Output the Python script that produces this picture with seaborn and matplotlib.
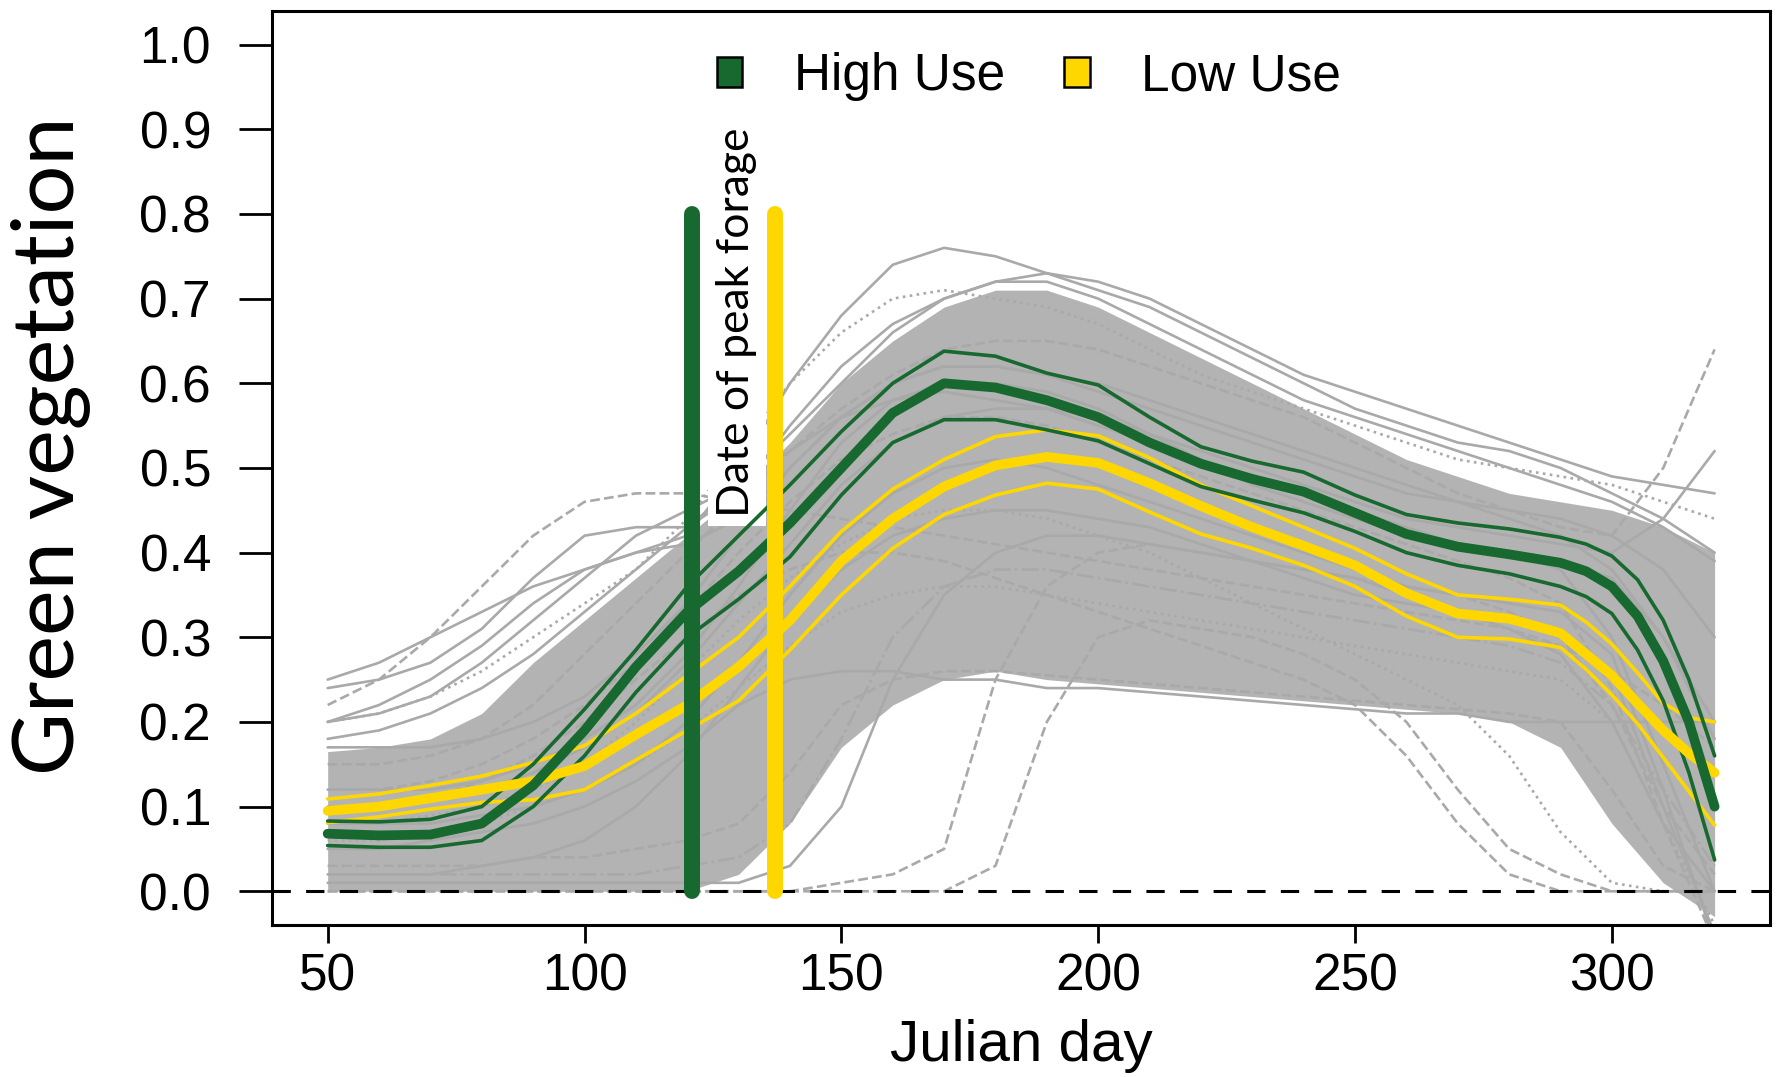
"""
Green vegetation curves by Julian day: high-use vs low-use sites,
with all individual site curves in grey behind.
"""

import matplotlib
matplotlib.use("Agg")

import matplotlib.pyplot as plt
from matplotlib.patches import Patch
import seaborn as sns

# ---------------------------------------------------------------- data
DAYS = [50, 60, 70, 80, 90, 100, 110, 120, 130, 140, 150, 160, 170, 180,
        190, 200, 210, 220, 230, 240, 250, 260, 270, 280, 290, 295, 300,
        305, 310, 315, 320]

HIGH_MEAN = [0.068, 0.066, 0.067, 0.080, 0.125, 0.190, 0.265, 0.330, 0.378,
             0.435, 0.500, 0.565, 0.600, 0.595, 0.580, 0.560, 0.530, 0.505,
             0.487, 0.472, 0.447, 0.422, 0.407, 0.398, 0.388, 0.378, 0.360,
             0.325, 0.272, 0.200, 0.100]
HIGH_UPPER = [0.083, 0.082, 0.085, 0.100, 0.150, 0.215, 0.285, 0.360, 0.420,
              0.480, 0.543, 0.600, 0.638, 0.632, 0.612, 0.598, 0.560, 0.525,
              0.508, 0.495, 0.468, 0.445, 0.435, 0.428, 0.418, 0.410, 0.396,
              0.368, 0.320, 0.250, 0.160]
HIGH_LOWER = [0.054, 0.052, 0.052, 0.060, 0.100, 0.160, 0.235, 0.300, 0.345,
              0.395, 0.468, 0.530, 0.557, 0.557, 0.545, 0.532, 0.505, 0.478,
              0.462, 0.447, 0.425, 0.400, 0.385, 0.375, 0.360, 0.348, 0.328,
              0.285, 0.225, 0.140, 0.037]

LOW_MEAN = [0.095, 0.100, 0.110, 0.120, 0.130, 0.148, 0.185, 0.220, 0.265,
            0.320, 0.390, 0.440, 0.478, 0.503, 0.513, 0.506, 0.482, 0.455,
            0.430, 0.408, 0.385, 0.352, 0.328, 0.322, 0.305, 0.280, 0.255,
            0.222, 0.190, 0.163, 0.140]
LOW_UPPER = [0.109, 0.115, 0.125, 0.136, 0.152, 0.172, 0.210, 0.255, 0.300,
             0.360, 0.425, 0.475, 0.510, 0.537, 0.545, 0.538, 0.512, 0.480,
             0.455, 0.430, 0.405, 0.375, 0.350, 0.345, 0.338, 0.318, 0.292,
             0.258, 0.222, 0.205, 0.200]
LOW_LOWER = [0.081, 0.088, 0.097, 0.105, 0.108, 0.120, 0.155, 0.190, 0.225,
             0.285, 0.350, 0.405, 0.445, 0.468, 0.482, 0.475, 0.448, 0.422,
             0.405, 0.385, 0.360, 0.325, 0.300, 0.298, 0.288, 0.262, 0.232,
             0.198, 0.158, 0.118, 0.078]

PEAK_DAY_HIGH = 121
PEAK_DAY_LOW = 137
PEAK_LINE_TOP = 0.8

# individual site curves (grey), every 10 days
GRAY_DAYS = [50, 60, 70, 80, 90, 100, 110, 120, 130, 140, 150, 160, 170, 180,
             190, 200, 210, 220, 230, 240, 250, 260, 270, 280, 290, 300, 310,
             320]

# dense core of the grey bundle
GRAY_CORE_LO = [0.00, 0.00, 0.00, 0.00, 0.00, 0.00, 0.00, 0.00, 0.02, 0.08,
                0.17, 0.22, 0.25, 0.26, 0.25, 0.245, 0.24, 0.235, 0.23, 0.225,
                0.22, 0.215, 0.21, 0.20, 0.17, 0.08, 0.01, -0.03]
GRAY_CORE_HI = [0.165, 0.17, 0.18, 0.21, 0.27, 0.32, 0.37, 0.42, 0.47, 0.53,
                0.60, 0.65, 0.69, 0.71, 0.71, 0.69, 0.66, 0.63, 0.60, 0.57,
                0.54, 0.51, 0.49, 0.47, 0.46, 0.45, 0.43, 0.40]

GRAY_01 = [0.25, 0.27, 0.30, 0.33, 0.36, 0.38, 0.40, 0.42, 0.50, 0.60, 0.68,
           0.74, 0.76, 0.75, 0.73, 0.71, 0.69, 0.66, 0.63, 0.60, 0.57, 0.55,
           0.53, 0.52, 0.50, 0.47, 0.44, 0.40]
GRAY_02 = [0.22, 0.25, 0.30, 0.36, 0.42, 0.46, 0.47, 0.47, 0.46, 0.45, 0.44,
           0.43, 0.42, 0.41, 0.40, 0.39, 0.38, 0.37, 0.36, 0.35, 0.34, 0.33,
           0.32, 0.31, 0.29, 0.26, 0.22, 0.17]
GRAY_03 = [0.24, 0.25, 0.27, 0.31, 0.37, 0.42, 0.43, 0.43, 0.47, 0.55, 0.62,
           0.67, 0.70, 0.72, 0.72, 0.70, 0.67, 0.64, 0.61, 0.58, 0.56, 0.54,
           0.52, 0.50, 0.48, 0.46, 0.43, 0.39]
GRAY_04 = [0.20, 0.21, 0.23, 0.26, 0.30, 0.34, 0.38, 0.44, 0.52, 0.60, 0.66,
           0.70, 0.71, 0.70, 0.69, 0.67, 0.64, 0.61, 0.59, 0.57, 0.55, 0.53,
           0.51, 0.50, 0.49, 0.48, 0.46, 0.44]
GRAY_05 = [0.01, 0.01, 0.01, 0.01, 0.01, 0.01, 0.01, 0.01, 0.01, 0.03, 0.10,
           0.25, 0.35, 0.40, 0.42, 0.42, 0.41, 0.40, 0.39, 0.38, 0.37, 0.35,
           0.33, 0.31, 0.28, 0.20, 0.08, 0.00]
GRAY_06 = [0.00, 0.00, 0.00, 0.00, 0.00, 0.00, 0.00, 0.00, 0.00, 0.00, 0.01,
           0.02, 0.05, 0.25, 0.36, 0.40, 0.41, 0.40, 0.39, 0.38, 0.37, 0.36,
           0.35, 0.33, 0.30, 0.22, 0.10, 0.02]
GRAY_07 = [0.02, 0.02, 0.02, 0.02, 0.02, 0.02, 0.02, 0.03, 0.04, 0.08, 0.18,
           0.30, 0.36, 0.38, 0.38, 0.37, 0.36, 0.35, 0.34, 0.33, 0.32, 0.31,
           0.30, 0.29, 0.27, 0.22, 0.12, 0.03]
GRAY_08 = [0.03, 0.03, 0.03, 0.03, 0.04, 0.04, 0.05, 0.06, 0.08, 0.14, 0.22,
           0.25, 0.26, 0.26, 0.255, 0.25, 0.245, 0.24, 0.235, 0.23, 0.225,
           0.22, 0.215, 0.21, 0.20, 0.12, 0.03, 0.00]
GRAY_09 = [0.05, 0.05, 0.06, 0.07, 0.08, 0.10, 0.13, 0.17, 0.22, 0.25, 0.26,
           0.26, 0.25, 0.25, 0.24, 0.24, 0.235, 0.23, 0.225, 0.22, 0.215,
           0.21, 0.21, 0.20, 0.20, 0.20, 0.20, 0.20]
GRAY_10 = [0.10, 0.10, 0.11, 0.13, 0.16, 0.20, 0.25, 0.30, 0.35, 0.38, 0.40,
           0.40, 0.39, 0.37, 0.35, 0.33, 0.31, 0.29, 0.27, 0.25, 0.22, 0.16,
           0.08, 0.02, 0.00, 0.00, 0.00, 0.00]
GRAY_11 = [0.08, 0.08, 0.09, 0.10, 0.12, 0.15, 0.20, 0.26, 0.32, 0.37, 0.41,
           0.44, 0.45, 0.45, 0.44, 0.42, 0.40, 0.37, 0.34, 0.31, 0.28, 0.25,
           0.22, 0.16, 0.07, 0.01, 0.00, 0.00]
GRAY_12 = [0.17, 0.17, 0.17, 0.18, 0.20, 0.23, 0.28, 0.34, 0.42, 0.50, 0.56,
           0.60, 0.62, 0.62, 0.61, 0.59, 0.57, 0.55, 0.53, 0.51, 0.49, 0.47,
           0.46, 0.45, 0.44, 0.42, 0.38, 0.30]
GRAY_13 = [0.12, 0.12, 0.12, 0.13, 0.15, 0.18, 0.22, 0.28, 0.36, 0.45, 0.53,
           0.58, 0.60, 0.60, 0.59, 0.57, 0.54, 0.51, 0.48, 0.46, 0.44, 0.42,
           0.41, 0.40, 0.39, 0.37, 0.30, 0.18]
GRAY_14 = [0.08, 0.08, 0.08, 0.09, 0.10, 0.12, 0.15, 0.20, 0.27, 0.35, 0.42,
           0.47, 0.50, 0.51, 0.50, 0.48, 0.46, 0.44, 0.42, 0.40, 0.38, 0.36,
           0.35, 0.34, 0.33, 0.28, 0.12, -0.06]
GRAY_15 = [0.02, 0.02, 0.02, 0.03, 0.04, 0.06, 0.10, 0.16, 0.24, 0.32, 0.38,
           0.42, 0.44, 0.45, 0.45, 0.44, 0.43, 0.41, 0.39, 0.37, 0.35, 0.34,
           0.33, 0.32, 0.31, 0.26, 0.10, -0.05]
GRAY_16 = [0.15, 0.15, 0.16, 0.18, 0.22, 0.28, 0.34, 0.40, 0.46, 0.52, 0.57,
           0.61, 0.64, 0.65, 0.65, 0.64, 0.62, 0.60, 0.58, 0.56, 0.53, 0.50,
           0.47, 0.45, 0.43, 0.42, 0.50, 0.64]
GRAY_17 = [0.10, 0.10, 0.11, 0.12, 0.14, 0.17, 0.21, 0.27, 0.34, 0.41, 0.48,
           0.53, 0.56, 0.57, 0.57, 0.56, 0.54, 0.52, 0.50, 0.48, 0.46, 0.44,
           0.43, 0.42, 0.41, 0.40, 0.44, 0.52]
GRAY_18 = [0.20, 0.22, 0.25, 0.29, 0.34, 0.38, 0.40, 0.41, 0.44, 0.50, 0.56,
           0.60, 0.62, 0.62, 0.61, 0.60, 0.58, 0.56, 0.54, 0.52, 0.50, 0.48,
           0.46, 0.44, 0.42, 0.38, 0.30, 0.20]
GRAY_19 = [0.06, 0.06, 0.07, 0.08, 0.10, 0.12, 0.15, 0.19, 0.24, 0.29, 0.33,
           0.35, 0.36, 0.36, 0.35, 0.34, 0.33, 0.32, 0.31, 0.30, 0.29, 0.28,
           0.27, 0.26, 0.25, 0.20, 0.08, -0.04]
GRAY_20 = [0.00, 0.00, 0.00, 0.00, 0.00, 0.00, 0.00, 0.00, 0.00, 0.00, 0.00,
           0.00, 0.00, 0.03, 0.20, 0.30, 0.32, 0.31, 0.30, 0.28, 0.25, 0.20,
           0.12, 0.05, 0.02, 0.00, 0.00, 0.00]
GRAY_21 = [0.18, 0.19, 0.21, 0.24, 0.28, 0.33, 0.38, 0.43, 0.48, 0.54, 0.60,
           0.66, 0.70, 0.72, 0.73, 0.72, 0.70, 0.67, 0.64, 0.61, 0.59, 0.57,
           0.55, 0.53, 0.51, 0.49, 0.48, 0.47]
GRAY_22 = [0.12, 0.12, 0.13, 0.15, 0.18, 0.22, 0.27, 0.33, 0.40, 0.46, 0.51,
           0.54, 0.56, 0.56, 0.55, 0.53, 0.51, 0.49, 0.47, 0.45, 0.43, 0.41,
           0.39, 0.37, 0.34, 0.24, 0.08, -0.06]
GRAY_23 = [0.20, 0.21, 0.23, 0.27, 0.32, 0.37, 0.42, 0.45, 0.48, 0.52, 0.56,
           0.58, 0.59, 0.58, 0.57, 0.55, 0.53, 0.51, 0.49, 0.47, 0.45, 0.43,
           0.41, 0.40, 0.38, 0.30, 0.15, 0.00]

GRAY_CURVES = [GRAY_01, GRAY_02, GRAY_03, GRAY_04, GRAY_05, GRAY_06, GRAY_07,
               GRAY_08, GRAY_09, GRAY_10, GRAY_11, GRAY_12, GRAY_13, GRAY_14,
               GRAY_15, GRAY_16, GRAY_17, GRAY_18, GRAY_19, GRAY_20, GRAY_21,
               GRAY_22, GRAY_23]
GRAY_STYLES = ["-", "--", "-", ":", "-", "--", "-.", "--", "-", "--",
               ":", "-", "-", "-", "-", "--", "-", "-", ":", "--", "-",
               "--", "-"]

Y_TICKS = [0.0, 0.1, 0.2, 0.3, 0.4, 0.5, 0.6, 0.7, 0.8, 0.9, 1.0]
X_TICKS = [50, 100, 150, 200, 250, 300]

GREEN = "#17692F"
GOLD = "#FFD700"
GREY = "#A9A9A9"

# ---------------------------------------------------------------- style
sns.set_theme(style="ticks")
plt.rcParams["font.family"] = ["Liberation Sans", "DejaVu Sans"]
plt.rcParams.update({
    "axes.linewidth": 2.2,
    "text.color": "black",
    "axes.labelcolor": "black",
    "xtick.color": "black",
    "ytick.color": "black",
    "axes.edgecolor": "black",
})

fig = plt.figure(figsize=(17.79, 10.77), dpi=100)
ax = fig.add_axes([0.153, 0.141, 0.842, 0.849])

# grey bundle
ax.fill_between(GRAY_DAYS, GRAY_CORE_LO, GRAY_CORE_HI, color=GREY,
                alpha=0.88, linewidth=0, zorder=1)
for curve, ls in zip(GRAY_CURVES, GRAY_STYLES):
    sns.lineplot(x=GRAY_DAYS, y=curve, ax=ax, color=GREY, linewidth=1.9,
                 linestyle=ls, zorder=2)

ax.axhline(0, color="black", linewidth=2.2, linestyle=(0, (6, 5)), zorder=2.5)

ax.text(129.6, 0.672, "Date of peak forage", rotation=90, ha="center",
        va="center", fontsize=32, family=["Lato", "DejaVu Sans"],
        color="black", zorder=3,
        bbox=dict(facecolor="white", edgecolor="none", pad=6))

# group means with their bounds
for lower, mean, upper, col in [(LOW_LOWER, LOW_MEAN, LOW_UPPER, GOLD),
                                (HIGH_LOWER, HIGH_MEAN, HIGH_UPPER, GREEN)]:
    sns.lineplot(x=DAYS, y=upper, ax=ax, color=col, linewidth=2.6, zorder=4)
    sns.lineplot(x=DAYS, y=lower, ax=ax, color=col, linewidth=2.6, zorder=4)
    sns.lineplot(x=DAYS, y=mean, ax=ax, color=col, linewidth=7, zorder=4.5)

# date of peak forage
ax.plot([PEAK_DAY_HIGH, PEAK_DAY_HIGH], [0, PEAK_LINE_TOP], color=GREEN,
        linewidth=11.5, solid_capstyle="round", zorder=5)
ax.plot([PEAK_DAY_LOW, PEAK_DAY_LOW], [0, PEAK_LINE_TOP], color=GOLD,
        linewidth=11.5, solid_capstyle="round", zorder=5)

# axes
ax.set_xlim(39.2, 330.8)
ax.set_ylim(-0.04, 1.04)
ax.set_xticks(X_TICKS)
ax.set_yticks(Y_TICKS)
ax.set_yticklabels([f"{v:.1f}" for v in Y_TICKS])
ax.tick_params(axis="y", length=24, width=2, pad=20, labelsize=37,
               direction="out", left=True)
ax.tick_params(axis="x", length=13, width=2, pad=7, labelsize=37,
               direction="out", bottom=True)
for side in ["top", "right", "left", "bottom"]:
    ax.spines[side].set_visible(True)
ax.set_xlabel("")
ax.set_ylabel("")

ax.text(0.5, -0.132, "Julian day", transform=ax.transAxes, ha="center",
        va="center", fontsize=42)
ax.text(-0.148, 0.524, "Green vegetation", transform=ax.transAxes,
        rotation=90, ha="center", va="center", fontsize=62,
        family=["Lato", "DejaVu Sans"])

handles = [Patch(facecolor=GREEN, edgecolor="black", linewidth=1.8,
                 label="High Use"),
           Patch(facecolor=GOLD, edgecolor="black", linewidth=1.8,
                 label="Low Use")]
ax.legend(handles=handles, loc="center", bbox_to_anchor=(0.505, 0.928),
          ncol=2, frameon=False, fontsize=37, handlelength=0.5,
          handleheight=0.5, handletextpad=1.0, columnspacing=1.15)

fig.savefig("out.png", dpi=100, facecolor="white")
plt.close(fig)
